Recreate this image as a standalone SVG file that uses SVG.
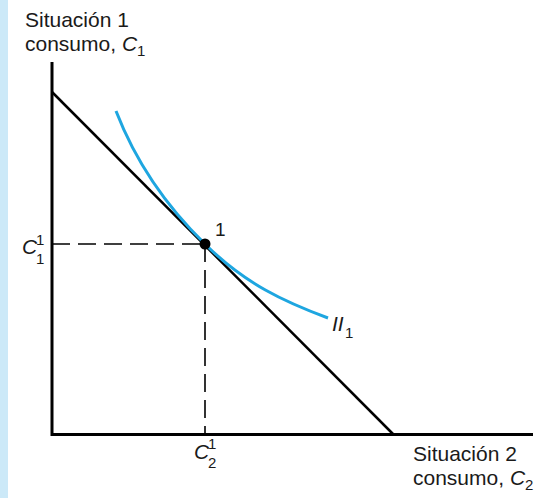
<svg xmlns="http://www.w3.org/2000/svg" width="543" height="498" viewBox="0 0 543 498">
<style>
text{font-family:"Liberation Sans",Arial,sans-serif;font-size:21px;fill:#1a1a1a}
.it{font-style:italic}
.sm{font-size:15px}
.ax{stroke:#000;stroke-width:3;fill:none}
.bl{stroke:#000;stroke-width:2.5;fill:none}
.ds{stroke:#000;stroke-width:1.6;stroke-dasharray:18,8;fill:none}
.ic{stroke:#1ea6e0;stroke-width:3;fill:none}
</style>
<rect x="0" y="0" width="8" height="498" fill="#cce9f8"/>
<g id="axes">
<path class="ax" d="M52,62 V434.5 H533"/>
</g>
<g id="connectors">
<path class="bl" d="M52,92 L393,434"/>
<path class="ds" d="M52,244 H205"/>
<path class="ds" d="M205,244 V434"/>
<path class="ic" d="M116,111 C135,160 165,205 205,244 C245,284 285,302 328,318"/>
</g>
<g id="point">
<circle cx="205" cy="244" r="5.5" fill="#000"/>
<text x="215" y="236" style="font-size:19px">1</text>
</g>
<g id="ylabel">
<text x="25" y="27">Situación 1</text>
<text x="25" y="51">consumo, <tspan class="it">C</tspan><tspan class="sm" dy="5">1</tspan></text>
</g>
<g id="xlabel">
<text x="413" y="461">Situación 2</text>
<text x="413" y="485">consumo, <tspan class="it">C</tspan><tspan class="sm" dy="5">2</tspan></text>
</g>
<g id="c11">
<text x="22" y="254" class="it">C</text>
<text x="36" y="245" class="sm">1</text>
<text x="36" y="264" class="sm">1</text>
</g>
<g id="c21">
<text x="194" y="459" class="it">C</text>
<text x="208" y="449" class="sm">1</text>
<text x="208" y="468" class="sm">2</text>
</g>
<g id="ii1">
<text x="332" y="331" class="it">II</text>
<text x="345" y="338" class="sm">1</text>
</g>
</svg>
